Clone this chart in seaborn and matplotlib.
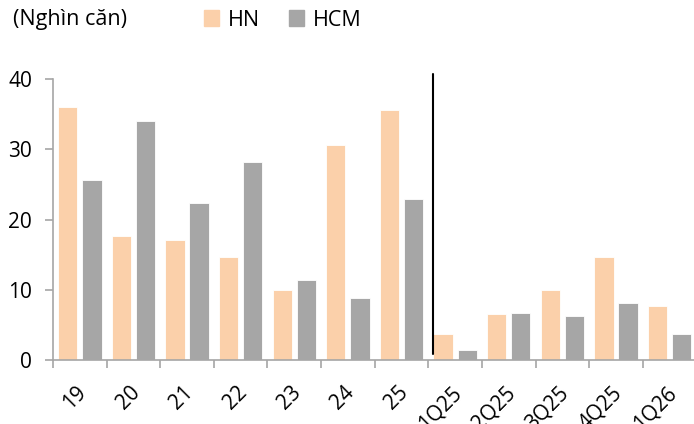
import numpy as np
import pandas as pd
import matplotlib
matplotlib.use("Agg")
import matplotlib.pyplot as plt
import matplotlib.transforms as mtransforms
import seaborn as sns

# data (thousand units)
periods = ["19", "20", "21", "22", "23", "24", "25", "1Q25", "2Q25", "3Q25", "4Q25", "1Q26"]
hn = [36.1, 17.7, 17.1, 14.7, 10.0, 30.7, 35.6, 3.7, 6.6, 10.0, 14.7, 7.7]
hcm = [25.6, 34.0, 22.3, 28.2, 11.4, 8.8, 22.9, 1.4, 6.7, 6.2, 8.1, 3.7]
series = ["HN", "HCM"]
colors = ["#FBD0AA", "#A6A6A6"]

df = pd.DataFrame({
    "period": periods * 2,
    "value": hn + hcm,
    "city": ["HN"] * len(periods) + ["HCM"] * len(periods),
})

sns.set_theme(style="white")
plt.rcParams["font.family"] = ["Open Sans", "DejaVu Sans"]
plt.rcParams["text.color"] = "black"
plt.rcParams["xtick.color"] = "black"
plt.rcParams["ytick.color"] = "black"
fs = 15

fig = plt.figure(figsize=(6.94, 4.24), dpi=100)
ax = fig.add_axes([0.0764, 0.151, 0.927, 0.662])

sns.barplot(data=df, x="period", y="value", hue="city", order=periods,
            hue_order=series, palette=colors, saturation=1, width=0.9, gap=0.2,
            edgecolor="white", linewidth=0.6, legend=False, ax=ax)

ax.set_xlim(-0.5, len(periods) - 0.5)
ax.set_ylim(0, 40)
ax.set_yticks([0, 10, 20, 30, 40])
ax.set_xlabel("")
ax.set_ylabel("")

# ticks at category boundaries, labels at centres
ax.set_xticks(np.arange(len(periods) + 1) - 0.5)
ax.set_xticklabels([])
ax.set_xticks(np.arange(len(periods)), minor=True)
ax.set_xticklabels(periods, minor=True, rotation=45, ha="right",
                   rotation_mode="anchor", fontsize=fs)
ax.tick_params(axis="x", which="minor", length=0, pad=16, bottom=False)
ax.tick_params(axis="x", which="major", length=6, width=1.2, color="#A6A6A6",
               direction="out", bottom=True)
ax.tick_params(axis="y", length=6, width=1.2, color="#A6A6A6", labelsize=fs,
               pad=9, left=True, labelcolor="black")
ax.tick_params(axis="x", labelcolor="black", which="both")

# nudge rotated labels a little to the left
shift = mtransforms.ScaledTranslation(-4 / 100, 0, fig.dpi_scale_trans)
for lbl in ax.get_xticklabels(minor=True):
    lbl.set_transform(lbl.get_transform() + shift)

for s in ["top", "right"]:
    ax.spines[s].set_visible(False)
for s in ["left", "bottom"]:
    ax.spines[s].set_color("#A6A6A6")
    ax.spines[s].set_linewidth(1.2)

# separator between annual and quarterly data
ax.plot([6.58, 6.58], [0.9, 40.7], color="black", lw=1.5, clip_on=False)

fig.text(13 / 694, 1 - 20 / 424, "(Nghìn căn)", fontsize=15.5, va="center", ha="left")
handles = [plt.Rectangle((0, 0), 1, 1, color=c) for c in colors]
fig.legend(handles, series, loc="center left", bbox_to_anchor=(204 / 694, 1 - 20 / 424),
           ncol=2, frameon=False, fontsize=15.5, handlelength=0.7, handleheight=0.7,
           handletextpad=0.4, columnspacing=1.35, borderaxespad=0, borderpad=0)

fig.savefig("out.png", dpi=100)
